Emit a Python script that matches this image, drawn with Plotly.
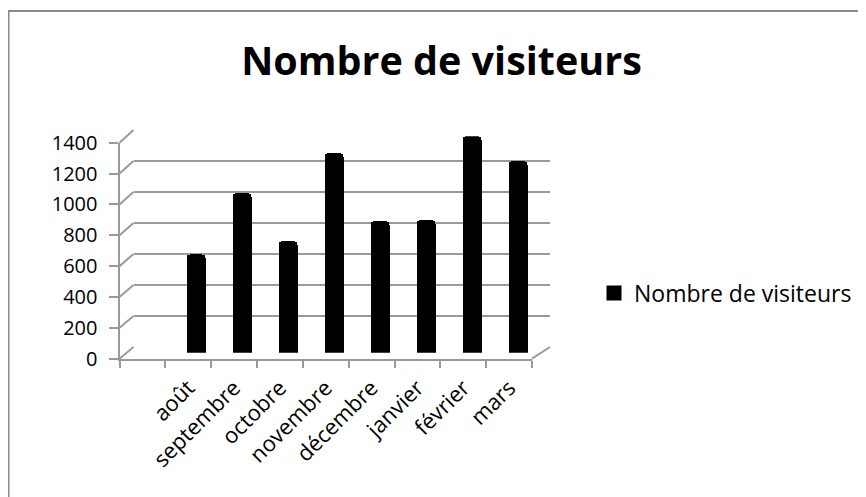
import plotly.graph_objects as go

# ---- data ----
categories = ["août", "septembre", "octobre", "novembre", "décembre", "janvier", "février", "mars"]
visiteurs = [640, 1030, 720, 1290, 850, 860, 1400, 1240]
series_name = "Nombre de visiteurs"
title_text = "Nombre de visiteurs"
y_ticks = [0, 200, 400, 600, 800, 1000, 1200, 1400]

W, H = 866, 497
OFF = 8  # page body margin of the html page
FONT = "Open Sans"
GRID = "#9a9a9a"

def px(x):
    return (x - OFF) / W

def py(y):
    return 1 - (y - OFF) / H

n = len(categories)
x_range = [-1.5, n - 0.5]
y_range = [0, y_ticks[-1]]

# pixel frames of the three planes of the 3-D box (back wall, bar plane, front)
back = dict(x0=133.5, x1=550, ybot=347, ytop=130)
front = dict(x0=119.5, x1=532, ybot=358.7, ytop=142.7)
mid = dict(x0=(back["x0"] + front["x0"]) / 2, x1=(back["x1"] + front["x1"]) / 2,
           ybot=(back["ybot"] + front["ybot"]) / 2, ytop=(back["ytop"] + front["ytop"]) / 2)

fig = go.Figure()
# empty helper traces so every axis pair gets drawn
fig.add_trace(go.Scatter(x=[None], y=[None], xaxis="x", yaxis="y", showlegend=False, hoverinfo="skip"))
fig.add_trace(go.Bar(
    x=list(range(n)), y=visiteurs, name=series_name,
    xaxis="x2", yaxis="y2", width=0.41,
    marker=dict(color="#000000", line=dict(width=0), cornerradius=4),
    showlegend=False,
))
fig.add_trace(go.Scatter(x=[None], y=[None], xaxis="x3", yaxis="y3", showlegend=False, hoverinfo="skip"))
fig.add_trace(go.Scatter(x=[None], y=[None], xaxis="x4", yaxis="y3", mode="markers",
                         name=series_name, showlegend=True, hoverinfo="skip",
                         marker=dict(symbol="square", size=15, color="#000000")))

def ydom(f):
    return [py(f["ybot"]), py(f["ytop"])]

def xdom(f):
    return [px(f["x0"]), px(f["x1"])]

hidden = dict(showgrid=False, showline=False, zeroline=False, showticklabels=False,
              ticks="", automargin=False)

layout = dict(
    template="none",
    width=W, height=H,
    margin=dict(l=0, r=0, t=0, b=0, pad=0, autoexpand=False),
    paper_bgcolor="white", plot_bgcolor="rgba(0,0,0,0)",
    font=dict(family=FONT, color="#000000"),
    title=dict(text=title_text, x=px(441.5), xanchor="center", y=py(61), yanchor="middle",
               font=dict(family=FONT, size=39.5, weight="bold", color="#000000")),
    showlegend=True,
    legend=dict(x=px(594), y=py(293), xanchor="left", yanchor="middle",
                font=dict(family=FONT, size=23, color="#000000"),
                bgcolor="rgba(0,0,0,0)", borderwidth=0),
    bargap=0,
    # back wall: gridlines
    xaxis=dict(domain=xdom(back), range=x_range, anchor="y", **hidden),
    yaxis=dict(domain=ydom(back), range=y_range, tickvals=y_ticks, showgrid=True,
               gridcolor=GRID, gridwidth=2, zeroline=False, showline=False,
               showticklabels=False, ticks="", anchor="x", automargin=False),
    # bar plane
    xaxis2=dict(domain=xdom(mid), range=x_range, anchor="y2", **hidden),
    yaxis2=dict(domain=ydom(mid), range=y_range, anchor="x2", **hidden),
    # front: axis lines, ticks and labels
    xaxis3=dict(domain=xdom(front), range=x_range, anchor="y3",
                tickvals=[i - 0.5 for i in range(-1, n + 1)], showticklabels=False,
                ticks="outside", ticklen=7, tickwidth=2, tickcolor=GRID,
                showline=True, linecolor=GRID, linewidth=2, showgrid=False, zeroline=False,
                automargin=False),
    xaxis4=dict(domain=xdom(front), range=x_range, anchor="y3", overlaying="x3",
                tickvals=list(range(n)), ticktext=categories, tickangle=-45,
                ticks="", showline=False, showgrid=False, zeroline=False, automargin=False,
                ticklabelstandoff=11,
                tickfont=dict(family=FONT, size=22, color="#000000")),
    yaxis3=dict(domain=ydom(front), range=y_range, anchor="x3", tickvals=y_ticks,
                ticks="outside", ticklen=9, tickwidth=2, tickcolor=GRID,
                showline=True, linecolor=GRID, linewidth=2, showgrid=False, zeroline=False,
                automargin=False, ticklabelstandoff=7,
                tickfont=dict(family=FONT, size=20, color="#000000")),
)
fig.update_layout(**layout)

# ---- 3-D box edges: connect front ticks to back gridlines ----
def ypix(f, v):
    return f["ybot"] - (f["ybot"] - f["ytop"]) * (v - y_range[0]) / (y_range[1] - y_range[0])

shapes = []
for v in y_ticks:
    shapes.append(dict(type="line", xref="paper", yref="paper",
                       x0=px(front["x0"]), y0=py(ypix(front, v)),
                       x1=px(back["x0"]), y1=py(ypix(back, v)),
                       line=dict(color=GRID, width=2)))
# right floor edge
shapes.append(dict(type="line", xref="paper", yref="paper",
                   x0=px(front["x1"]), y0=py(front["ybot"]),
                   x1=px(back["x1"]), y1=py(back["ybot"]),
                   line=dict(color=GRID, width=2)))
# chart-area border (only top and left visible in the frame)
shapes.append(dict(type="rect", xref="paper", yref="paper",
                   x0=px(8.5), y0=py(11), x1=px(W + 40), y1=py(H + 40),
                   line=dict(color="#8a8a8a", width=2), fillcolor="rgba(0,0,0,0)", layer="below"))
fig.update_layout(shapes=shapes)

fig.write_html("out.html")
